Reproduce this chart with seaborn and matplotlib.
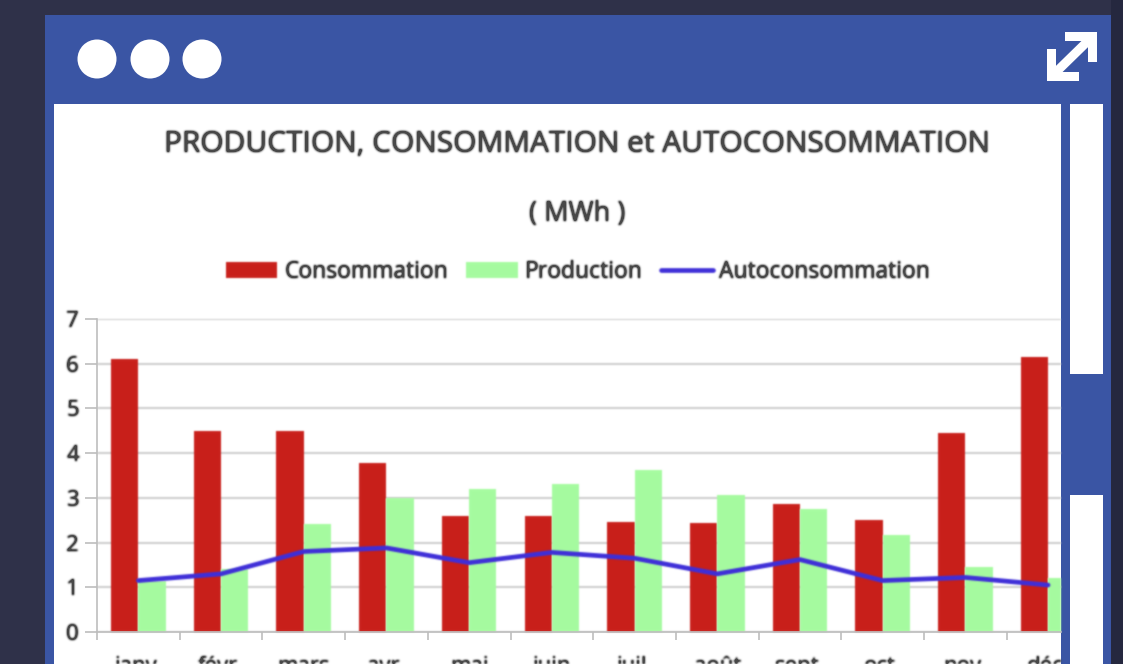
import numpy as np
import pandas as pd
import matplotlib
matplotlib.use("Agg")
import matplotlib.pyplot as plt
from matplotlib.patches import Rectangle, Circle, Polygon
import seaborn as sns

months = ["janv.", "févr.", "mars", "avr.", "mai", "juin", "juil.", "août", "sept.", "oct.", "nov.", "déc."]
consommation = [6.1, 4.5, 4.5, 3.78, 2.6, 2.6, 2.47, 2.43, 2.87, 2.5, 4.45, 6.15]
production = [1.15, 1.42, 2.42, 3.0, 3.2, 3.3, 3.62, 3.07, 2.75, 2.18, 1.45, 1.2]
autoconsommation = [1.15, 1.3, 1.8, 1.88, 1.55, 1.78, 1.65, 1.3, 1.62, 1.15, 1.22, 1.05]
series_names = ["Consommation", "Production", "Autoconsommation"]
title = "PRODUCTION, CONSOMMATION et AUTOCONSOMMATION"
subtitle = "( MWh )"

W, H = 1123, 664
TXT = "#484848"
BLUE = "#3A55A4"


def soften(sigma, gain=1.0):
    """Agg filter: gaussian blur, to match the soft look of the reference."""
    radius = int(3 * sigma) + 1
    kernel = np.exp(-0.5 * (np.arange(-radius, radius + 1) / sigma) ** 2)
    kernel /= kernel.sum()

    def blur(a):
        a = np.apply_along_axis(lambda v: np.convolve(v, kernel, mode="same"), 0, a)
        return np.apply_along_axis(lambda v: np.convolve(v, kernel, mode="same"), 1, a)

    def _filter(img, dpi):
        pad = np.pad(img, ((radius, radius), (radius, radius), (0, 0)))
        alpha = pad[..., 3]
        a_blur = blur(alpha)
        out = np.zeros_like(pad)
        for c in range(3):
            out[..., c] = blur(pad[..., c] * alpha) / np.maximum(a_blur, 1e-4)
        out[..., 3] = a_blur * gain
        return np.clip(out, 0, 1), -radius, -radius

    return _filter


sns.set_theme(style="white")
plt.rcParams["font.family"] = ["Open Sans", "DejaVu Sans"]

fig = plt.figure(figsize=(W / 100, H / 100), dpi=100, facecolor="#2F3149")

# window chrome, in pixel coordinates
bg = fig.add_axes([0, 0, 1, 1], zorder=0)
bg.set_xlim(0, W); bg.set_ylim(H, 0); bg.axis("off")
bg.add_patch(Rectangle((1111, 0), 12, H, color="#25283F", lw=0))
bg.add_patch(Rectangle((45, 15), 1066, 660, color=BLUE, lw=0))
bg.add_patch(Rectangle((54, 104), 1007, 570, color="white", lw=0))
bg.add_patch(Rectangle((1070, 104), 33, 270, color="white", lw=0))
bg.add_patch(Rectangle((1070, 495), 33, 180, color="white", lw=0))
for cx in (97, 150, 202):
    bg.add_patch(Circle((cx, 59), 19.5, color="white", lw=0))
bg.add_patch(Polygon([(1065, 32), (1097, 32), (1097, 62), (1088, 62), (1088, 41), (1065, 41)], color="white", lw=0))
bg.add_patch(Polygon([(1047, 49), (1056, 49), (1056, 72), (1079, 72), (1079, 81), (1047, 81)], color="white", lw=0))
bg.plot([1051, 1093], [77, 36], color="white", lw=6.5, solid_capstyle="butt")

# chart
L, R, T, B = 97, 1061, 319, 632
ax = fig.add_axes([L / W, 1 - B / H, (R - L) / W, (B - T) / H], zorder=1)
ax.patch.set_alpha(0)

df = pd.DataFrame({
    "mois": months * 2,
    "valeur": consommation + production,
    "serie": [series_names[0]] * 12 + [series_names[1]] * 12,
})
sns.barplot(data=df, x="mois", y="valeur", hue="serie",
            palette=["#C9201B", "#A6FBA0"], width=0.66, gap=0,
            saturation=1, linewidth=0, ax=ax, zorder=2)
sns.lineplot(x=np.arange(12), y=autoconsommation, color="#3F2FD8", lw=3.4,
             label=series_names[2], ax=ax, zorder=3)

ax.set_xlim(-0.5, (R - L) / 82.7 - 0.5)
ax.set_ylim(0, 7)
ax.set_xlabel(""); ax.set_ylabel("")
ax.set_yticks(range(8))
ax.yaxis.grid(True, color="#CDCDCD", lw=1.4)
ax.set_axisbelow(True)
for s in ("top", "right"):
    ax.spines[s].set_visible(False)
for s in ("left", "bottom"):
    ax.spines[s].set_color("#BDBDBD"); ax.spines[s].set_linewidth(1.2)

ax.set_xticks(np.arange(12) - 0.5, minor=True)
ax.tick_params(axis="x", which="minor", length=6, width=1.2, color="#BDBDBD", direction="out", bottom=True)
ax.tick_params(axis="x", which="major", length=0, pad=17.5, labelsize=16, labelcolor=TXT)
ax.tick_params(axis="y", which="major", length=9, width=1.2, color="#BDBDBD", left=True,
               pad=4, labelsize=16, labelcolor=TXT)

clip = Rectangle((54, 0), 1007, H, transform=bg.transData)
for lab in ax.get_xticklabels():
    lab.set_clip_on(True)
    lab.set_clip_path(clip)

h, l = ax.get_legend_handles_labels()
lookup = dict(zip(l, h))
leg = ax.legend([lookup[n] for n in series_names], series_names, loc="center",
                bbox_to_anchor=(0.499, 1.151), ncol=3, frameon=False, fontsize=16.5,
                labelcolor=TXT, handlelength=2.25, handletextpad=0.3, columnspacing=0.8,
                borderpad=0, borderaxespad=0)

t1 = bg.text(577, 144, title, ha="center", va="center", fontsize=21.5, color=TXT)
t2 = bg.text(577, 214, subtitle, ha="center", va="center", fontsize=19.5, color=TXT)

# soft rendering like the reference
text_blur = soften(1.0, gain=1.9)
mark_blur = soften(0.8)
for t in [t1, t2, *leg.get_texts(), *ax.get_xticklabels(), *ax.get_yticklabels()]:
    t.set_agg_filter(text_blur)
for a in [*ax.patches, *ax.lines, *leg.legend_handles, *ax.get_ygridlines()]:
    a.set_agg_filter(mark_blur)

fig.savefig("out.png", dpi=100, facecolor=fig.get_facecolor())
